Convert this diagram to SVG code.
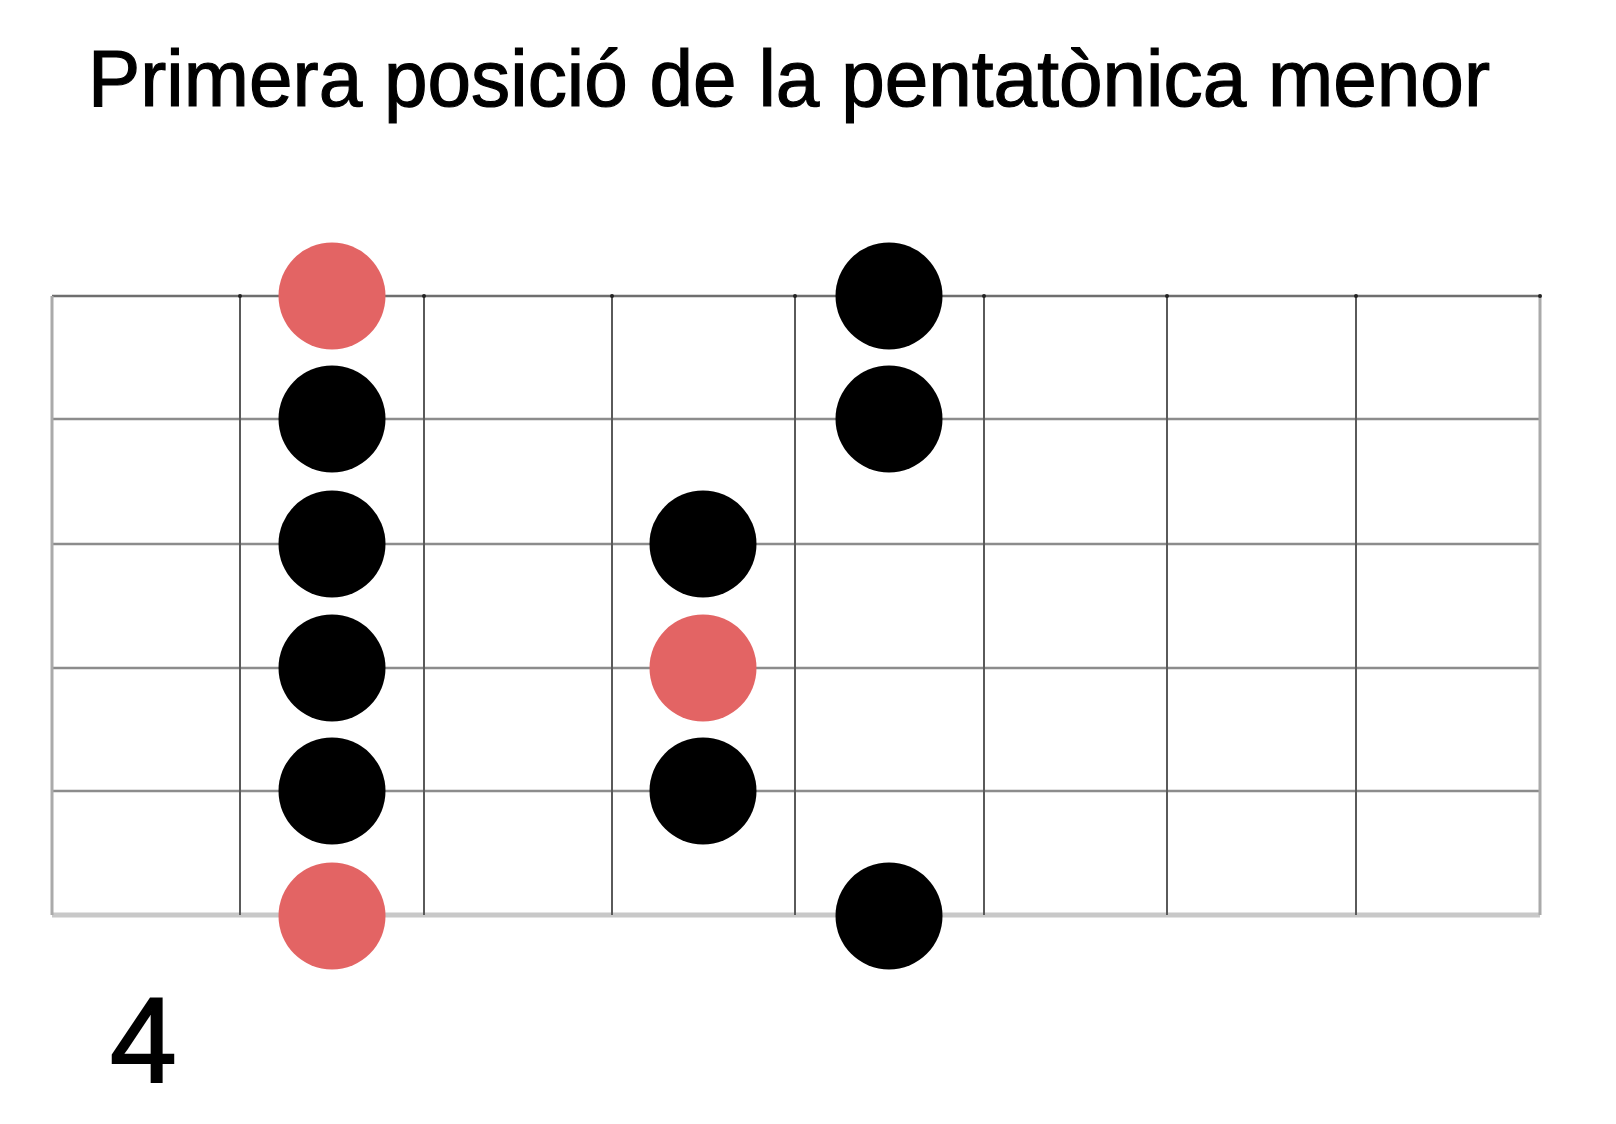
<svg xmlns="http://www.w3.org/2000/svg" width="1616" height="1124" viewBox="0 0 1616 1124">
<style>
.t{font-family:"Liberation Sans",Arial,sans-serif;fill:#000;stroke:#000;stroke-width:1.2}
.h{stroke:#8c8c8c;stroke-width:2.5}
.v{stroke:#5a5a5a;stroke-width:2}
.edge{stroke:#aaaaaa;stroke-width:3}
.bot{stroke:#c8c8c8;stroke-width:5}
.blk{fill:#000}
.red{fill:#e36464}
</style>
<rect width="1616" height="1124" fill="#fff"/>
<text class="t" x="88" y="106" font-size="79" textLength="1402" lengthAdjust="spacingAndGlyphs">Primera posició de la pentatònica menor</text>
<g id="grid">
<line class="h" x1="52" y1="296" x2="1540" y2="296" style="stroke:#6e6e6e"/>
<line class="h" x1="52" y1="419" x2="1540" y2="419"/>
<line class="h" x1="52" y1="544" x2="1540" y2="544"/>
<line class="h" x1="52" y1="668" x2="1540" y2="668"/>
<line class="h" x1="52" y1="791" x2="1540" y2="791"/>
<line class="bot" x1="52" y1="915" x2="1540" y2="915"/>
<line class="edge" x1="52" y1="296" x2="52" y2="915"/>
<line class="v" x1="240" y1="296" x2="240" y2="915"/>
<line class="v" x1="424" y1="296" x2="424" y2="915"/>
<line class="v" x1="612" y1="296" x2="612" y2="915"/>
<line class="v" x1="795" y1="296" x2="795" y2="915"/>
<line class="v" x1="984" y1="296" x2="984" y2="915"/>
<line class="v" x1="1167" y1="296" x2="1167" y2="915"/>
<line class="v" x1="1356" y1="296" x2="1356" y2="915"/>
<line class="edge" x1="1540" y1="296" x2="1540" y2="915"/>
<g fill="#222">
<circle cx="240" cy="296" r="2"/><circle cx="424" cy="296" r="2"/><circle cx="612" cy="296" r="2"/><circle cx="795" cy="296" r="2"/><circle cx="984" cy="296" r="2"/><circle cx="1167" cy="296" r="2"/><circle cx="1356" cy="296" r="2"/><circle cx="1540" cy="296" r="2"/>
</g>
</g>
<g id="notes">
<circle id="n1" class="red" cx="332" cy="296" r="53.5"/>
<circle id="n2" class="blk" cx="332" cy="419" r="53.5"/>
<circle id="n3" class="blk" cx="332" cy="544" r="53.5"/>
<circle id="n4" class="blk" cx="332" cy="668" r="53.5"/>
<circle id="n5" class="blk" cx="332" cy="791" r="53.5"/>
<circle id="n6" class="red" cx="332" cy="916" r="53.5"/>
<circle id="n7" class="blk" cx="703" cy="544" r="53.5"/>
<circle id="n8" class="red" cx="703" cy="668" r="53.5"/>
<circle id="n9" class="blk" cx="703" cy="791" r="53.5"/>
<circle id="n10" class="blk" cx="889" cy="296" r="53.5"/>
<circle id="n11" class="blk" cx="889" cy="419" r="53.5"/>
<circle id="n12" class="blk" cx="889" cy="916" r="53.5"/>
</g>
<text class="t" x="110" y="1082" font-size="120" style="stroke-width:2">4</text>
</svg>
